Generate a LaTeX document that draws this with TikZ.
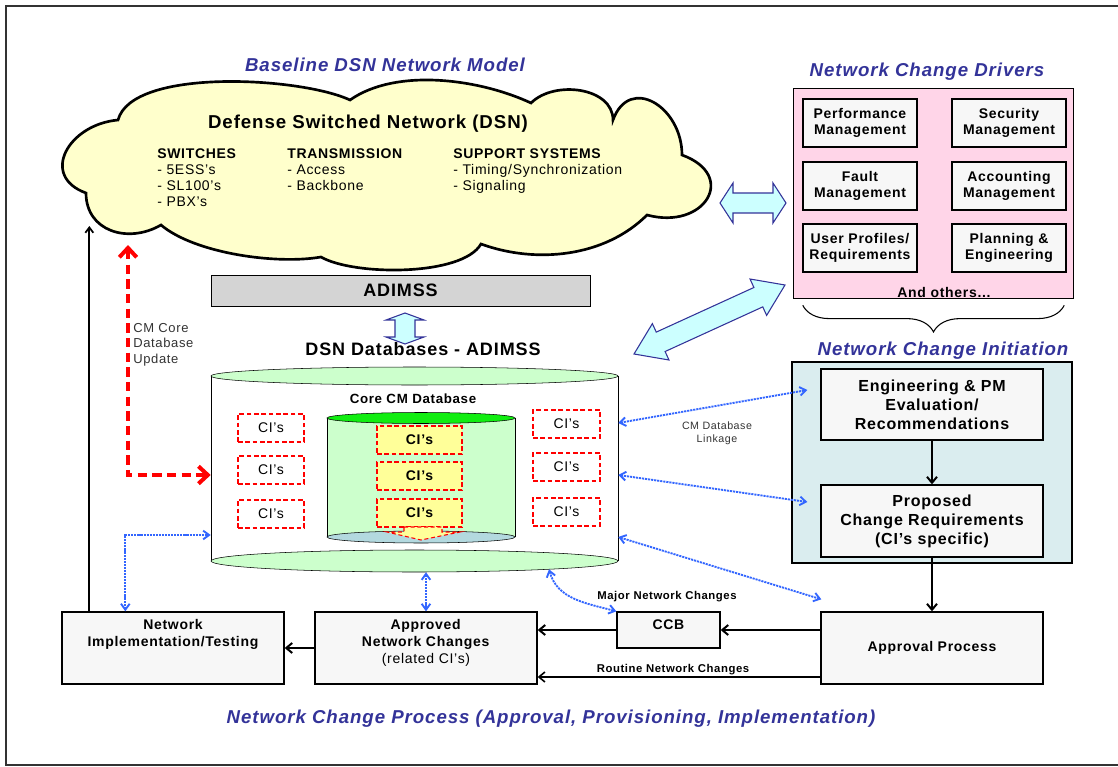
\documentclass[tikz,border=0pt]{standalone}
\usepackage{fontspec}
\setmainfont{Liberation Sans}[LetterSpace=5]
\usetikzlibrary{positioning,calc,arrows.meta,decorations.pathreplacing}
\definecolor{titleblue}{HTML}{333399}
\definecolor{cloudyellow}{HTML}{FFFFCC}
\definecolor{driverpink}{HTML}{FFD5E8}
\definecolor{initteal}{HTML}{DAEDEF}
\definecolor{boxfill}{HTML}{F7F7F7}
\definecolor{bargray}{HTML}{D4D4D4}
\definecolor{dbgreen}{HTML}{CCFFCC}
\definecolor{coregreen}{HTML}{11EE11}
\definecolor{corebase}{HTML}{B3D9DF}
\definecolor{ciyellow}{HTML}{FFFF99}
\definecolor{linkblue}{HTML}{3366FF}
\definecolor{arrowcyan}{HTML}{CCFFFF}
\newcommand\fsz[2]{\fontsize{#1}{#2}\selectfont}
\newcommand\hollowarrow[5]{%
  \coordinate (ha) at ($(#1)!#3!(#2)$);
  \coordinate (hb) at ($(#2)!#3!(#1)$);
  \filldraw[hollow] (#1) -- ($(ha)!#4!90:(#1)$) -- ($(ha)!#5!90:(#1)$)
    -- ($(hb)!#5!90:(#1)$) -- ($(hb)!#4!90:(#1)$) -- (#2)
    -- ($(hb)!#4!-90:(#1)$) -- ($(hb)!#5!-90:(#1)$)
    -- ($(ha)!#5!-90:(#1)$) -- ($(ha)!#4!-90:(#1)$) -- cycle;}
\begin{document}
\begin{tikzpicture}[x=0.75pt,y=0.75pt,
   every node/.style={inner sep=0pt},
   headline/.style={anchor=base, font=\fsz{14}{16}\bfseries\itshape, text=titleblue},
   cloudcol/.style={anchor=north west, align=left, font=\fsz{10.5}{12}},
   driverbox/.style={draw, line width=1pt, fill=boxfill, minimum width=85.5pt,
      minimum height=36pt, align=center, font=\fsz{10.5}{12}\bfseries},
   procbox/.style={draw, line width=1pt, fill=boxfill, minimum width=166.5pt, align=center},
   ci/.style={draw=red, line width=1.4pt, dash pattern=on 3.5pt off 2pt,
      minimum height=21pt, font=\fsz{10.5}{12}},
   flow/.style={line width=1.5pt, -{Straight Barb[length=4.5pt,width=7.5pt]}},
   link/.style={draw=linkblue, line width=1.4pt, dash pattern=on 1.6pt off 0.7pt,
      {Straight Barb[length=4.5pt,width=6.5pt]}-{Straight Barb[length=4.5pt,width=6.5pt]}},
   update/.style={draw=red, line width=3pt, dash pattern=on 7pt off 4pt,
      {Straight Barb[length=7pt,width=13pt]}-{Straight Barb[length=7pt,width=13pt]}},
   hollow/.style={draw=titleblue, fill=arrowcyan, line width=0.8pt}
]
\useasboundingbox (0,0) rectangle (1118,-767);
\draw[line width=1.4pt, black!80] (1118,-6) -- (6,-6) -- (6,-765) -- (1118,-765);

\node (modeltitle) [headline] at (385,-72) {Baseline DSN Network Model};
\node (drivertitle) [headline] at (927,-77) {Network Change Drivers};
\node (inittitle) [headline] at (943,-355) {Network Change Initiation};
\node (processtitle) [headline] at (551,-723) {Network Change Process (Approval, Provisioning, Implementation)};

% cloud
\draw[line width=2pt, fill=cloudyellow] (118,-120)
   to[out=75,in=155,looseness=0.6] (350,-100)
   to[out=35,in=155,looseness=0.8] (531,-103)
   to[out=45,in=90] (613,-120)
   to[out=70,in=90,looseness=1.6] (682,-155)
   to[out=-20,in=-15,looseness=2.2] (647,-215)
   to[out=-135,in=-20,looseness=0.9] (481,-244)
   to[out=-120,in=-30,looseness=0.6] (321,-257)
   to[out=190,in=-40,looseness=0.7] (161,-225)
   to[out=-150,in=-90,looseness=1.2] (86,-193)
   to[out=160,in=185,looseness=1.6] (118,-120) -- cycle;
\node (dsn) [anchor=base, font=\fsz{14}{16}\bfseries] at (368,-128) {Defense Switched Network (DSN)};
\node (switches) [cloudcol] at (157,-148) {\textbf{SWITCHES}\\- 5ESS’s\\- SL100’s\\- PBX’s};
\node (transmission) [cloudcol] at (287,-148) {\textbf{TRANSMISSION}\\- Access\\- Backbone};
\node (support) [cloudcol] at (453,-148) {\textbf{SUPPORT SYSTEMS}\\- Timing/Synchronization\\- Signaling};

% drivers
\node (drivers) [draw, fill=driverpink, minimum width=210pt, minimum height=157.5pt] at (933,-193) {};
\node (perf) [driverbox] at (860,-123) {Performance\\Management};
\node (secur) [driverbox] at (1009,-123) {Security\\Management};
\node (fault) [driverbox] at (860,-186) {Fault\\Management};
\node (acct) [driverbox] at (1009,-186) {Accounting\\Management};
\node (user) [driverbox] at (860,-248) {User Profiles/\\Requirements};
\node (plan) [driverbox] at (1009,-248) {Planning \&\\Engineering};
\node (others) [anchor=base, font=\fsz{10.5}{12}\bfseries] at (944,-297) {And others...};
\draw[line width=0.8pt, decorate, decoration={brace, mirror, amplitude=20pt}]
   ($(drivers.south west)+(10,-7)$) -- ($(drivers.south east)+(-9,-7)$);

% initiation
\node (init) [draw, line width=1pt, fill=initteal, minimum width=210pt, minimum height=150.75pt] at (932,-462.5) {};
\node (eng) [procbox, minimum height=53.25pt, font=\fsz{12}{14.25}\bfseries] at (932,-404.5)
   {Engineering \& PM\\Evaluation/\\Recommendations};
\node (prop) [procbox, minimum height=54pt, font=\fsz{12}{14.25}\bfseries] at (932,-521)
   {Proposed\\Change Requirements\\(CI’s specific)};

% databases
\node (adimss) [draw, fill=bargray, minimum width=284.25pt, minimum height=23.25pt,
   font=\fsz{13.5}{16}\bfseries] at (400.5,-290.5) {ADIMSS};
\node (dbtitle) [anchor=base, font=\fsz{13.5}{16}\bfseries] at (423,-355) {DSN Databases - ADIMSS};
\node (db) [minimum width=305.25pt, minimum height=138.75pt] at (414.5,-468.5) {};
\fill[white] (211,-376) rectangle (618,-561);
\draw (211,-376) -- (211,-561) (618,-376) -- (618,-561);
\draw[fill=dbgreen] (414.5,-561) ellipse [x radius=152.625pt, y radius=8.25pt];
\draw[fill=dbgreen] (414.5,-376) ellipse [x radius=152.625pt, y radius=6.75pt];
\node (coretitle) [anchor=base, font=\fsz{10}{12}\bfseries] at (413,-403) {Core CM Database};
\fill[dbgreen] (327,-418) rectangle (515,-537);
\draw (327,-418) -- (327,-537) (515,-418) -- (515,-537);
\draw[fill=corebase] (421,-537) ellipse [x radius=70.5pt, y radius=4.5pt];
\draw[fill=coregreen] (421,-418) ellipse [x radius=70.5pt, y radius=4.125pt];
\node (coreci1) [ci, fill=ciyellow, minimum width=63.75pt, font=\fsz{10.5}{12}\bfseries] at (419.5,-440) {CI’s};
\node (coreci2) [ci, fill=ciyellow, minimum width=63.75pt, font=\fsz{10.5}{12}\bfseries] at (419.5,-476) {CI’s};
\node (coreci3) [ci, fill=ciyellow, minimum width=63.75pt, font=\fsz{10.5}{12}\bfseries] at (419.5,-513) {CI’s};
\filldraw[fill=ciyellow, draw=red, densely dashed, line width=0.8pt] (404,-527) -- (442,-527)
   -- (442,-532) -- (460,-532) -- (421,-540) -- (387,-532) -- (404,-532) -- cycle;
\node (leftci1) [ci, fill=white, minimum width=49.5pt] at (271,-428) {CI’s};
\node (leftci2) [ci, fill=white, minimum width=49.5pt] at (271,-470) {CI’s};
\node (leftci3) [ci, fill=white, minimum width=49.5pt] at (271,-514) {CI’s};
\node (rightci1) [ci, fill=white, minimum width=50.25pt] at (566.5,-424) {CI’s};
\node (rightci2) [ci, fill=white, minimum width=50.25pt] at (566.5,-467) {CI’s};
\node (rightci3) [ci, fill=white, minimum width=50.25pt] at (566.5,-512) {CI’s};

% process
\node (approval) [procbox, minimum height=54pt, font=\fsz{10.5}{12}\bfseries] at (932,-648) {Approval Process};
\node (ccb) [procbox, minimum width=77.25pt, minimum height=27pt] at (668.5,-630) {};
\node (ccblabel) [below=6pt of ccb.north, font=\fsz{10.5}{12}\bfseries] {CCB};
\node (approved) [procbox, minimum height=54pt] at (426,-648) {};
\node (approvedlabel) [below=6pt of approved.north, align=center, font=\fsz{10.5}{12.75}]
   {\textbf{Approved}\\\textbf{Network Changes}\\(related CI’s)};
\node (nit) [procbox, minimum height=54pt] at (173,-648) {};
\node (nitlabel) [below=6pt of nit.north, align=center, font=\fsz{10.5}{12.75}\bfseries]
   {Network\\Implementation/Testing};
\node (majorlabel) [anchor=base, font=\fsz{8.5}{10}\bfseries] at (667,-599) {Major Network Changes};
\node (routinelabel) [anchor=base, font=\fsz{8.5}{10}\bfseries] at (673,-672) {Routine Network Changes};
\node (linklabel) [anchor=north, align=center, font=\fsz{8}{9.75}, text=black!80] at (717,-422) {CM Database\\Linkage};
\node (updatelabel) [anchor=north west, align=left, font=\fsz{9.75}{11.6}, text=black!80] at (133,-323)
   {CM Core\\Database\\Update};

% connectors
\draw[flow] (eng) -- (prop);
\draw[flow] (prop) -- (approval);
\draw[flow] (approval.west |- ccb.east) -- (ccb.east);
\draw[flow] (ccb.west) -- (approved.east |- ccb.west);
\coordinate (routine) at ($(approval.west)+(0,-29)$);
\draw[flow, line width=1.2pt] (routine) -- (approved.east |- routine);
\draw[flow] (approved) -- (nit);
\coordinate (nitup) at ($(nit.north west)+(28,0)$);
\coordinate (cloudA) at (90,-226);
\draw[line width=1.3pt, -{Straight Barb[length=4pt,width=6pt]}] (nitup) -- (nitup |- cloudA);

\coordinate (cloudB) at (128,-245);
\draw[update] (cloudB) |- ($(db.west)+(0,-6.5)$);

\draw[link] ($(db.east)+(0,45.5)$) -- ($(eng.west)+(-13,14.5)$);
\draw[link] ($(db.east)+(0,-6.5)$) -- ($(prop.west)+(-13,19)$);
\draw[link] ($(db.east)+(0,-68.5)$) -- ($(approval.north west)+(1,12)$);
\draw[link] ($(db.south)+(134.5,-8)$) to[out=-75,in=165] (ccb.north west);
\draw[link] ($(db.south)+(11.5,-11)$) -- (approved.north);
\draw[link] ($(nit.north west)+(64,0)$) |- ($(db.west)+(0,-66.5)$);

\coordinate (adimssTip) at (405,-313);
\coordinate (dbTip) at (405,-344);
\hollowarrow{adimssTip}{dbTip}{5.25pt}{14.25pt}{7.5pt}
\coordinate (cloudTip) at (720,-203);
\coordinate (driversTip) at (786,-203);
\hollowarrow{cloudTip}{driversTip}{9.75pt}{15pt}{7.5pt}
\coordinate (linkTipA) at (634,-354);
\coordinate (linkTipB) at (785,-285);
\hollowarrow{linkTipA}{linkTipB}{22pt}{15pt}{8pt}
\end{tikzpicture}
\end{document}
